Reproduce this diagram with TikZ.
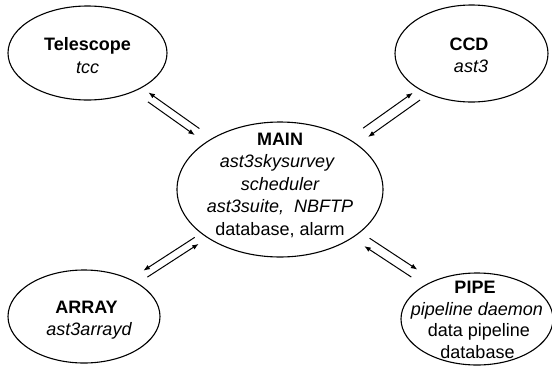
\documentclass[tikz,border=0pt]{standalone}
\usepackage{fontspec}
\setmainfont{Liberation Sans}
\usetikzlibrary{arrows.meta,shapes.geometric}

\begin{document}
\begin{tikzpicture}[x=1pt,y=-1pt,
  box/.style={draw, ellipse, line width=1.1pt, inner sep=0pt},
  txt/.style={anchor=base, inner sep=0pt, font=\fontsize{18}{22}\selectfont},
  ttl/.style={txt, font=\fontsize{18}{22}\selectfont\bfseries},
  itl/.style={txt, font=\fontsize{18}{22}\selectfont\itshape},
  link/.style={-{Latex[length=6.5pt,width=5pt]}, line width=1pt}]
\useasboundingbox (0,0) rectangle (552,370);

% processes
\node[box, minimum width=159pt, minimum height=94pt]  (tel)  at (87.5,53)  {};
\node[box, minimum width=153pt, minimum height=97pt]  (ccd)  at (471.5,53.5) {};
\node[box, minimum width=206pt, minimum height=135pt] (main) at (280,189.5) {};
\node[box, minimum width=152pt, minimum height=93pt]  (arr)  at (84,316.5) {};
\node[box, minimum width=152pt, minimum height=92pt]  (pipe) at (477,319)  {};

% labels
\node[ttl] (tel-a) at (87.5,50) {Telescope};
\node[itl] (tel-b) at (87.5,73) {tcc};

\node[ttl] (ccd-a) at (469,50) {CCD};
\node[itl] (ccd-b) at (471,72) {ast3};

\node[ttl] (main-a) at (280,145)   {MAIN};
\node[itl] (main-b) at (277,167.5) {ast3skysurvey};
\node[itl] (main-c) at (280,190)   {scheduler};
\node[itl] (main-d) at (280,212.5) {ast3suite,\ \ NBFTP};
\node[txt] (main-e) at (280,235)   {database, alarm};

\node[ttl] (arr-a) at (86.5,313) {ARRAY};
\node[itl] (arr-b) at (89,335)   {ast3arrayd};

\node[ttl] (pipe-a) at (475,293)   {PIPE};
\node[itl] (pipe-b) at (477,315)   {pipeline daemon};
\node[txt] (pipe-c) at (479,336.5) {data pipeline};
\node[txt] (pipe-d) at (477.5,358) {database};

% message channels (one arrow each way)
\draw[link, shorten <=101pt, shorten >=72.5pt]
  ([shift={(1.8,-2.5)}]main.center) -- ([shift={(1.8,-2.5)}]tel.center);
\draw[link, shorten <=77.6pt, shorten >=101pt]
  ([shift={(-2.8,4.0)}]tel.center) -- ([shift={(-2.8,4.0)}]main.center);

\draw[link, shorten <=103.3pt, shorten >=70.6pt]
  ([shift={(-1.1,-1.55)}]main.center) -- ([shift={(-1.1,-1.55)}]ccd.center);
\draw[link, shorten <=68.9pt, shorten >=102.2pt]
  ([shift={(4.7,6.65)}]ccd.center) -- ([shift={(4.7,6.65)}]main.center);

\draw[link, shorten <=97.6pt, shorten >=74.8pt]
  ([shift={(-3.4,-5.2)}]main.center) -- ([shift={(-3.4,-5.2)}]arr.center);
\draw[link, shorten <=74.6pt, shorten >=97.8pt]
  ([shift={(0.76,1.18)}]arr.center) -- ([shift={(0.76,1.18)}]main.center);

\draw[link, shorten <=101.7pt, shorten >=77pt]
  ([shift={(4.67,-7.1)}]main.center) -- ([shift={(4.67,-7.1)}]pipe.center);
\draw[link, shorten <=78pt, shorten >=101.5pt]
  ([shift={(-0.55,0.84)}]pipe.center) -- ([shift={(-0.55,0.84)}]main.center);
\end{tikzpicture}
\end{document}
